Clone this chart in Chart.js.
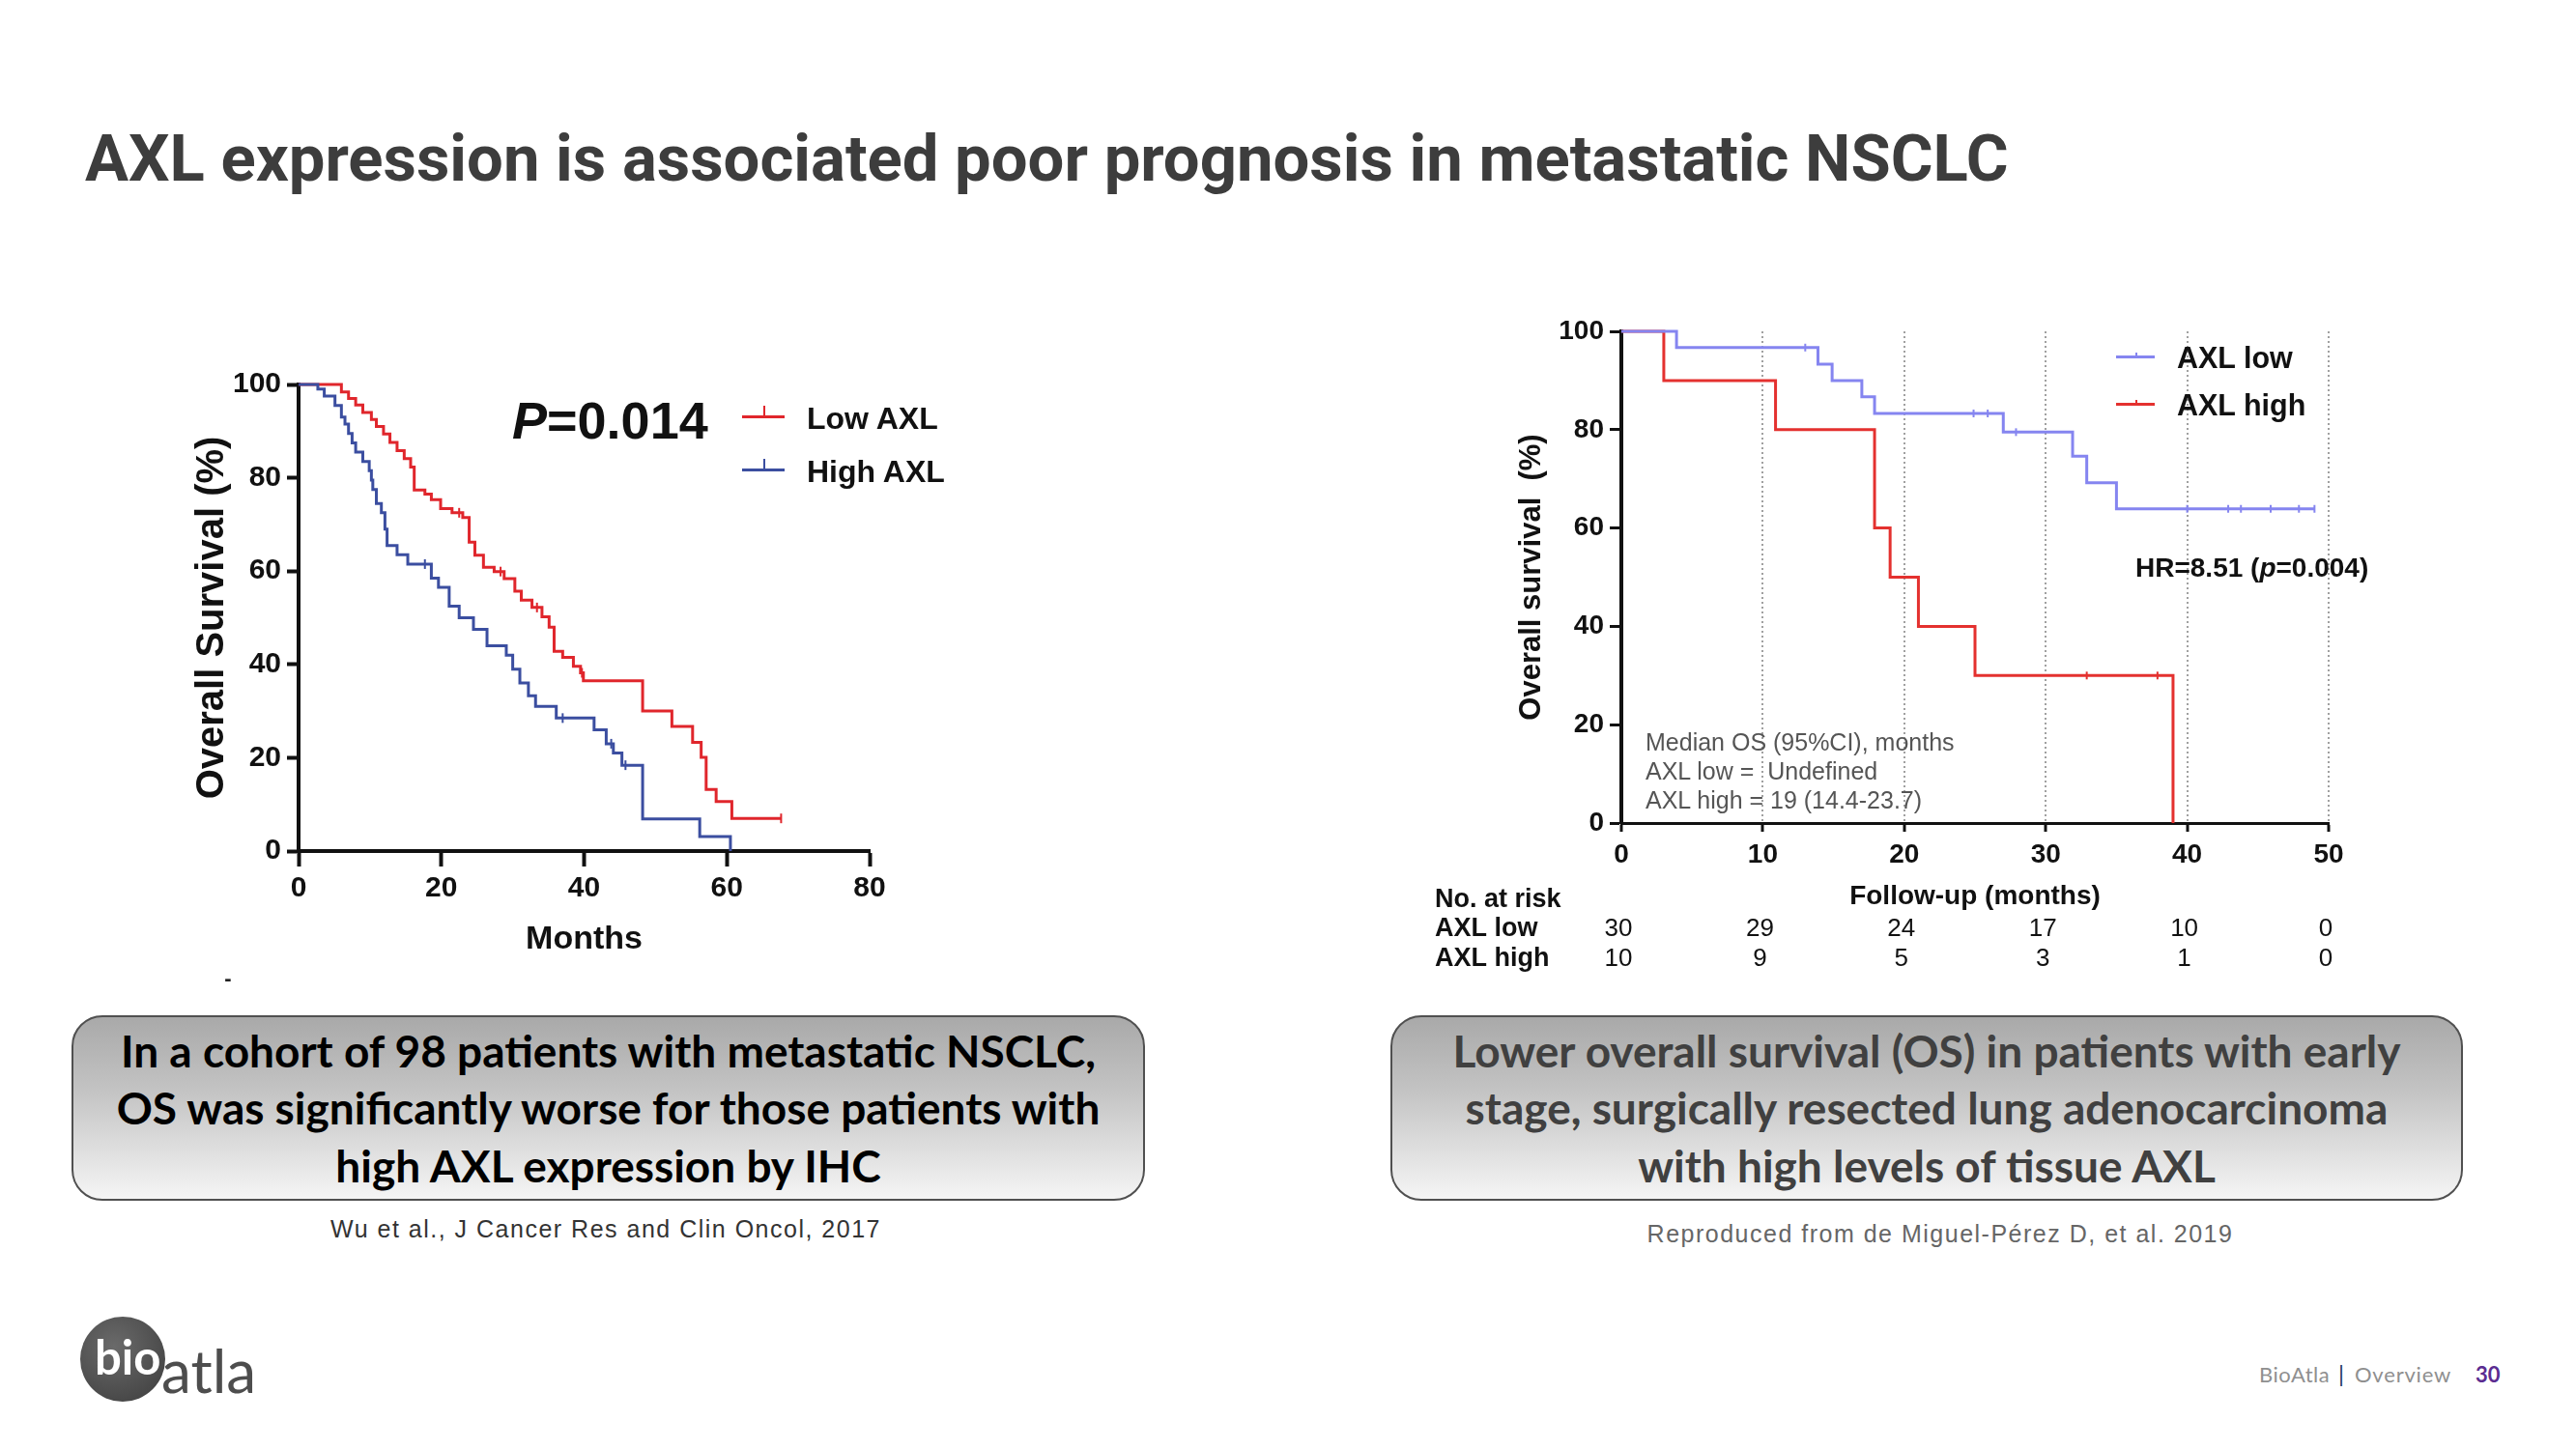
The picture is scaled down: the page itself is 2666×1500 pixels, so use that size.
<!DOCTYPE html>
<html>
<head>
<meta charset="utf-8">
<script src="https://cdn.jsdelivr.net/npm/chart.js@4.4.1/dist/chart.umd.min.js"></script>
<style>
  html, body { margin: 0; padding: 0; background: #fff; }
  body { width: 2666px; height: 1500px; position: relative; overflow: hidden;
         font-family: 'Liberation Sans', Arial, sans-serif; }
  .abs { position: absolute; white-space: nowrap; line-height: 1; }
  .mid { transform: translateY(-50%); }
  .ctr { transform: translate(-50%, -50%); }
  canvas { position: absolute; }

  #title { left: 88px; top: 131px; font-family: Roboto, sans-serif; font-weight: 700;
           font-size: 67px; color: #3d3d3d; }

  .box { position: absolute; border: 2.5px solid #505050; border-radius: 32px; box-sizing: border-box;
         background: linear-gradient(to bottom, #a9a9a9 0%, #c3c3c3 40%, #f5f5f5 100%);
         display: flex; flex-direction: column; justify-content: center; align-items: center;
         font-family: Lato, 'Open Sans', sans-serif; font-weight: 700; font-size: 46px; }
  .box div { line-height: 59.5px; white-space: nowrap; }
  .cite { font-family: 'Liberation Sans Narrow', 'Liberation Sans', Arial, sans-serif;
          font-size: 25px; letter-spacing: 1.5px; }

  .leg-line { position: absolute; height: 3px; }
  .leg-line::after { content: ''; position: absolute; left: 50%; bottom: 0; width: 2px;
                     height: var(--tick); background: inherit; }
</style>
</head>
<body>

<div id="title" class="abs">AXL expression is associated poor prognosis in metastatic NSCLC</div>

<!-- left study: Wu et al. -->
<canvas id="wuChart" width="800" height="680" style="left:190px; top:360px;"></canvas>
<div class="abs mid" style="left:530px; top:435px; font-size:54px; font-weight:700; color:#111;"><i>P</i>=0.014</div>
<div class="leg-line" style="left:768px; top:430px; width:44px; background:#e0262c; --tick:13px;"></div>
<div class="abs mid" style="left:835px; top:433px; font-size:32px; font-weight:700; color:#111;">Low AXL</div>
<div class="leg-line" style="left:768px; top:485px; width:44px; background:#3b4ea0; --tick:13px;"></div>
<div class="abs mid" style="left:835px; top:488px; font-size:32px; font-weight:700; color:#111;">High AXL</div>
<div class="abs ctr" style="left:236px; top:1013px; font-size:22px; font-weight:700; color:#222;">-</div>

<!-- right study: de Miguel-Pérez et al. -->
<canvas id="mpChart" width="1020" height="720" style="left:1460px; top:300px;"></canvas>
<div class="leg-line" style="left:2190px; top:368px; width:40px; background:#8585f0; --tick:6px;"></div>
<div class="abs mid" style="left:2253px; top:370px; font-size:30.5px; font-weight:700; color:#111;">AXL low</div>
<div class="leg-line" style="left:2190px; top:417px; width:40px; background:#e4312f; --tick:6px;"></div>
<div class="abs mid" style="left:2253px; top:419px; font-size:30.5px; font-weight:700; color:#111;">AXL high</div>
<div class="abs mid" style="left:2210px; top:588px; font-size:28px; font-weight:700; color:#111;">HR=8.51 (<i>p</i>=0.004)</div>
<div class="abs mid" style="left:1703px; top:768px; font-size:25px; color:#555;">Median OS (95%CI), months</div>
<div class="abs mid" style="left:1703px; top:798px; font-size:25px; color:#555;">AXL low =&nbsp; Undefined</div>
<div class="abs mid" style="left:1703px; top:828px; font-size:25px; color:#555;">AXL high = 19 (14.4-23.7)</div>

<!-- caption boxes -->
<div class="box" style="left:74px; top:1051px; width:1111px; height:192px; color:#000;">
  <div>In a cohort of 98 patients with metastatic NSCLC,</div>
  <div>OS was significantly worse for those patients with</div>
  <div>high AXL expression by IHC</div>
</div>
<div class="abs ctr cite" style="left:627px; top:1272px; color:#333;">Wu et al., J Cancer Res and Clin Oncol, 2017</div>

<div class="box" style="left:1439px; top:1051px; width:1110px; height:192px; color:#404040;">
  <div>Lower overall survival (OS) in patients with early</div>
  <div>stage, surgically resected lung adenocarcinoma</div>
  <div>with high levels of tissue AXL</div>
</div>
<div class="abs ctr cite" style="left:2008px; top:1277px; color:#666;">Reproduced from de Miguel-Pérez D, et al. 2019</div>

<!-- logo and footer -->
<div style="position:absolute; left:83px; top:1363px; width:88px; height:88px; border-radius:50%;
            background: radial-gradient(circle at 40% 35%, #6a6a6a, #3c3c3c);"></div>
<div class="abs" style="left:98px; top:1380px; font-family:Lato, sans-serif; font-weight:700; font-size:49px; color:#fff;">bio</div>
<div class="abs" style="left:167px; top:1387px; font-family:Lato, sans-serif; font-size:62px; color:#4d4d4d;">atla</div>

<div class="abs mid" style="left:2338px; top:1423px; font-family:Lato, sans-serif; font-size:22px; color:#8f8f8f; letter-spacing:0.5px;">BioAtla</div>
<div class="abs mid" style="left:2420px; top:1422px; font-family:Lato, sans-serif; font-size:24px; color:#1f3864;">|</div>
<div class="abs mid" style="left:2437px; top:1423px; font-family:Lato, sans-serif; font-size:22px; color:#8f8f8f; letter-spacing:0.8px;">Overview</div>
<div class="abs mid" style="left:2562px; top:1423px; font-family:Lato, sans-serif; font-size:22px; font-weight:700; color:#5b2c91;">30</div>

<script>
// ---- Wu et al. 2017 (months vs overall survival %) ----
const lowAxlMonths   = [0, 6.0, 7.0, 8.0, 9.0, 10.2, 10.9, 11.9, 12.8, 13.8, 14.8, 15.7, 16.2, 17.7, 18.6, 19.9, 21.5, 23.0, 23.9, 24.7,
                        25.9, 27.4, 28.8, 30.3, 31.2, 32.7, 34.1, 35.1, 35.8, 37.0, 38.5, 39.5, 39.9, 48.2, 52.3, 55.2, 56.4, 57.1, 58.5, 60.7, 67.6];
const lowAxlSurvival = [100, 98.4, 97, 95.6, 94, 92.5, 91, 89.4, 87.6, 85.8, 84.1, 82.3, 77.4, 76.5, 75.3, 73.4, 72.5, 71.5, 66.2, 63.4,
                        60.8, 59.9, 58.4, 55.7, 53.8, 52.2, 50.2, 48.0, 42.8, 41.5, 39.6, 38.2, 36.5, 30.0, 26.7, 23.3, 20.1, 13.2, 10.6, 7.0, 7.0];
const lowAxlCensorMonths   = [22.5, 28.3, 33.4, 39.7, 67.6];
const lowAxlCensorSurvival = [72.5, 59.9, 52.2, 38.2, 7.0];

const highAxlMonths   = [0, 2.7, 3.6, 5.1, 6.0, 6.5, 7.0, 7.5, 8.0, 9.0, 9.9, 10.2, 10.4, 10.9, 11.6, 12.1, 12.4, 13.8, 15.3, 18.6,
                         19.6, 21.1, 22.5, 24.5, 26.4, 29.1, 30.0, 31.0, 32.2, 33.2, 36.1, 41.4, 43.1, 44.1, 45.3, 48.2, 56.2, 60.5];
const highAxlSurvival = [100, 99, 97.5, 95.5, 93, 91.5, 89.5, 87.5, 85.5, 83.5, 81.5, 79.5, 77.5, 74.5, 72.5, 69, 65.5, 63.5, 61.5, 58.5,
                         56.5, 52.5, 50, 47.5, 44, 42, 39, 36, 33.3, 31, 28.5, 26, 23, 21, 18.4, 6.9, 3.1, 0];
const highAxlCensorMonths   = [17.7, 37.0, 43.8, 45.8];
const highAxlCensorSurvival = [61.5, 28.5, 23, 18.4];

const wuMonthTicks = [0, 20, 40, 60, 80];

// ---- de Miguel-Pérez et al. 2019 (follow-up months vs overall survival %) ----
const axlLowMonths   = [0, 3.9, 13.9, 14.9, 17.0, 17.9, 27.0, 31.9, 32.9, 35.0, 49.0];
const axlLowSurvival = [100, 96.7, 93.3, 90.0, 86.7, 83.3, 79.5, 74.6, 69.2, 63.9, 63.9];
const axlLowCensorMonths   = [13.0, 24.9, 25.9, 27.9, 40.0, 42.9, 43.8, 45.9, 47.9, 49.0];
const axlLowCensorSurvival = [96.7, 83.3, 83.3, 79.5, 63.9, 63.9, 63.9, 63.9, 63.9, 63.9];

const axlHighMonths   = [0, 3.0, 10.9, 17.9, 19.0, 21.0, 25.0, 39.0];
const axlHighSurvival = [100, 90, 80, 60, 50, 40, 30, 0];
const axlHighCensorMonths   = [32.9, 37.9];
const axlHighCensorSurvival = [30, 30];

const riskTimes     = [0, 10, 20, 30, 40, 50];
const axlLowAtRisk  = [30, 29, 24, 17, 10, 0];
const axlHighAtRisk = [10, 9, 5, 3, 1, 0];

const WU_RED = '#e0262c', WU_BLUE = '#3b4ea0';
const MP_BLUE = '#8585f0', MP_RED = '#e4312f';
const SANS = "'Liberation Sans', Arial, sans-serif";

const pts = (xs, ys) => xs.map((x, i) => ({ x, y: ys[i] }));

const curve = (data, color, width) => ({
    data, borderColor: color, borderWidth: width, stepped: true,
    pointRadius: 0, fill: false, clip: false
});

const censor = (data, color, radius) => ({
    data, showLine: false, pointStyle: 'line', pointRotation: 90,
    pointRadius: radius, pointBorderColor: color, pointBorderWidth: 2, clip: false
});

Chart.defaults.animation = false;
Chart.defaults.events = [];
Chart.defaults.color = '#111';

new Chart(document.getElementById('wuChart'), {
    type: 'line',
    data: {
        datasets: [
            curve(pts(highAxlMonths, highAxlSurvival), WU_BLUE, 3),
            curve(pts(lowAxlMonths, lowAxlSurvival), WU_RED, 3),
            censor(pts(highAxlCensorMonths, highAxlCensorSurvival), WU_BLUE, 5),
            censor(pts(lowAxlCensorMonths, lowAxlCensorSurvival), WU_RED, 5)
        ]
    },
    options: {
        responsive: false,
        layout: { padding: { left: 0, top: 38, right: 90, bottom: 29 } },
        plugins: { legend: { display: false }, tooltip: { enabled: false } },
        scales: {
            x: {
                type: 'linear', min: 0, max: 80,
                afterBuildTicks: s => { s.ticks = wuMonthTicks.map(v => ({ value: v })); },
                ticks: { padding: 5, font: { family: SANS, size: 30, weight: 'bold' }, color: '#111' },
                grid: { drawOnChartArea: false, tickLength: 16, tickWidth: 4, tickColor: '#111' },
                border: { color: '#111', width: 4 },
                title: { display: true, text: 'Months', color: '#111',
                         font: { family: SANS, size: 34, weight: 'bold' }, padding: { top: 0, bottom: 18 } },
                afterFit: s => { s.height = 130; }
            },
            y: {
                min: 0, max: 100,
                ticks: { stepSize: 20, padding: 6, font: { family: SANS, size: 30, weight: 'bold' }, color: '#111' },
                grid: { drawOnChartArea: false, tickLength: 12, tickWidth: 4, tickColor: '#111' },
                border: { color: '#111', width: 4 },
                title: { display: true, text: 'Overall Survival (%)', color: '#111',
                         font: { family: SANS, size: 40, weight: 'bold' }, padding: { top: 6, bottom: 0 } },
                afterFit: s => { s.width = 119; }
            }
        }
    }
});

// number-at-risk table under the x axis, placed with the chart's own x scale
const riskTable = {
    id: 'riskTable',
    afterDraw(chart) {
        const { ctx, scales: { x } } = chart;
        ctx.save();
        ctx.fillStyle = '#111';
        ctx.textBaseline = 'middle';
        ctx.textAlign = 'left';
        ctx.font = `bold 27px ${SANS}`;
        ctx.fillText('No. at risk', 25, 632);
        ctx.fillText('AXL low', 25, 662);
        ctx.fillText('AXL high', 25, 693);
        ctx.textAlign = 'center';
        ctx.font = `26px ${SANS}`;
        riskTimes.forEach((t, i) => {
            const px = x.getPixelForValue(t) - 3;
            ctx.fillText(String(axlLowAtRisk[i]), px, 662);
            ctx.fillText(String(axlHighAtRisk[i]), px, 693);
        });
        ctx.restore();
    }
};

new Chart(document.getElementById('mpChart'), {
    type: 'line',
    data: {
        datasets: [
            curve(pts(axlLowMonths, axlLowSurvival), MP_BLUE, 3),
            curve(pts(axlHighMonths, axlHighSurvival), MP_RED, 3),
            censor(pts(axlLowCensorMonths, axlLowCensorSurvival), MP_BLUE, 4),
            censor(pts(axlHighCensorMonths, axlHighCensorSurvival), MP_RED, 4)
        ]
    },
    options: {
        responsive: false,
        layout: { padding: { left: 80, top: 43, right: 70, bottom: 73 } },
        plugins: { legend: { display: false }, tooltip: { enabled: false } },
        scales: {
            x: {
                type: 'linear', min: 0, max: 50,
                afterBuildTicks: s => { s.ticks = riskTimes.map(v => ({ value: v })); },
                ticks: { padding: 7, font: { family: SANS, size: 28, weight: 'bold' }, color: '#111' },
                grid: { drawOnChartArea: true, color: '#a0a0a0', lineWidth: 2,
                        tickLength: 9, tickWidth: 3, tickColor: '#111' },
                border: { color: '#111', width: 3, dash: [2, 3] },
                title: { display: true, text: 'Follow-up (months)', color: '#111',
                         font: { family: SANS, size: 28, weight: 'bold' }, padding: { top: 0, bottom: 2 } },
                afterFit: s => { s.height = 95; }
            },
            y: {
                min: 0, max: 100,
                ticks: { stepSize: 20, padding: 6, font: { family: SANS, size: 28, weight: 'bold' }, color: '#111' },
                grid: { drawOnChartArea: false, tickLength: 12, tickWidth: 3, tickColor: '#111' },
                border: { color: '#111', width: 4 },
                title: { display: true, text: 'Overall survival  (%)', color: '#111',
                         font: { family: SANS, size: 31, weight: 'bold' }, padding: { top: 27, bottom: 0 } },
                afterFit: s => { s.width = 138; }
            }
        }
    },
    plugins: [riskTable]
});
</script>
</body>
</html>
